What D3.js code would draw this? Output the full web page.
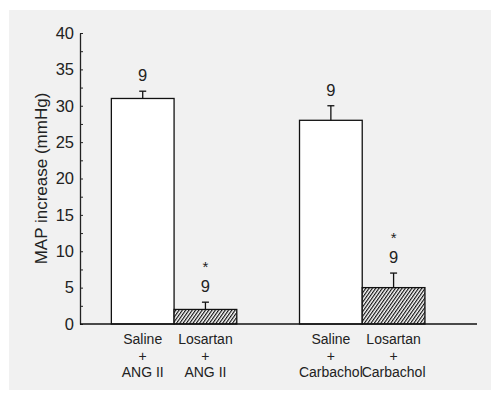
<!DOCTYPE html>
<html>
<head>
<meta charset="utf-8">
<script src="https://cdn.jsdelivr.net/npm/d3@7"></script>
<style>
  body { margin: 0; background: #fff; }
  svg { display: block; font-family: "Liberation Sans", Arial, sans-serif; }
</style>
</head>
<body>
<svg id="chart" width="491" height="397"></svg>
<script>
// data
var treatments = ["Saline", "Losartan", "Saline", "Losartan"];
var agonists = ["ANG II", "ANG II", "Carbachol", "Carbachol"];
var slots = [0, 1, 3, 4];           // slot 2 is the gap between the two groups
var means = [31, 2, 28, 5];
var sems = [1, 1, 2, 2];
var nLabels = ["9", "9", "9", "9"];
var signif = [false, true, false, true];
var hatched = [false, true, false, true];
var yTicks = [0, 5, 10, 15, 20, 25, 30, 35, 40];

function drawChart() {
    var svg = d3.select("#chart");

    svg.append("rect")
        .attr("x", 9).attr("y", 10)
        .attr("width", 482).attr("height", 380)
        .attr("fill", "#f1f1f1");

    var defs = svg.append("defs");
    var pat = defs.append("pattern")
        .attr("id", "hatch")
        .attr("patternUnits", "userSpaceOnUse")
        .attr("width", 2.7).attr("height", 2.7)
        .attr("patternTransform", "rotate(35)");
    pat.append("rect").attr("width", 2.7).attr("height", 2.7).attr("fill", "#fff");
    pat.append("line")
        .attr("x1", 0.6).attr("y1", 0).attr("x2", 0.6).attr("y2", 2.7)
        .attr("stroke", "#111").attr("stroke-width", 1.2);

    var y = d3.scaleLinear().domain([0, 40]).range([324, 33]);
    var x = d3.scaleLinear().domain([-0.5, 5.83]).range([80, 477]);
    var bw = x(1) - x(0);

    // y axis, ticks every 2.5 pointing inward
    var yAxis = d3.axisLeft(y)
        .tickValues(d3.range(0, 40.1, 2.5))
        .tickSizeInner(-3)
        .tickSizeOuter(0)
        .tickPadding(6)
        .tickFormat(function(d) { return yTicks.indexOf(d) >= 0 ? d : ""; });

    var gy = svg.append("g")
        .attr("transform", "translate(" + x(-0.5) + ",0)")
        .call(yAxis);
    gy.select(".domain").attr("stroke", "#222").attr("stroke-width", 1.3);
    gy.selectAll(".tick line").attr("stroke", "#222").attr("stroke-width", 1);
    gy.selectAll("text")
        .attr("font-size", 16.5)
        .attr("fill", "#222")
        .attr("font-family", "Liberation Sans, Arial, sans-serif");

    svg.append("text")
        .attr("transform", "translate(47," + ((y(0) + y(40)) / 2) + ") rotate(-90)")
        .attr("text-anchor", "middle")
        .attr("font-size", 17)
        .attr("fill", "#222")
        .text("MAP increase (mmHg)");

    // bars
    var g = svg.append("g");
    g.selectAll("rect.bar")
        .data(means)
        .enter().append("rect")
        .attr("class", "bar")
        .attr("x", function(d, i) { return x(slots[i]); })
        .attr("y", function(d) { return y(d); })
        .attr("width", bw)
        .attr("height", function(d) { return y(0) - y(d); })
        .attr("fill", function(d, i) { return hatched[i] ? "url(#hatch)" : "#fff"; })
        .attr("stroke", "#111")
        .attr("stroke-width", 1.3);

    // error bars, n and significance marks, group labels
    means.forEach(function(m, i) {
        var cx = x(slots[i]) + bw / 2;
        g.append("line")
            .attr("x1", cx).attr("x2", cx)
            .attr("y1", y(m)).attr("y2", y(m + sems[i]))
            .attr("stroke", "#111").attr("stroke-width", 1.3);
        g.append("line")
            .attr("x1", cx - 3.5).attr("x2", cx + 3.5)
            .attr("y1", y(m + sems[i])).attr("y2", y(m + sems[i]))
            .attr("stroke", "#111").attr("stroke-width", 1.3);

        g.append("text")
            .attr("x", cx)
            .attr("y", y(m + sems[i]) - 10)
            .attr("text-anchor", "middle")
            .attr("font-size", 16.5)
            .attr("fill", "#222")
            .text(nLabels[i]);
        if (signif[i]) {
            g.append("text")
                .attr("x", cx)
                .attr("y", y(m + sems[i]) - 30)
                .attr("text-anchor", "middle")
                .attr("font-size", 15)
                .attr("fill", "#222")
                .text("*");
        }

        var lab = g.append("text")
            .attr("text-anchor", "middle")
            .attr("font-size", 14)
            .attr("fill", "#222");
        [treatments[i], "+", agonists[i]].forEach(function(t, k) {
            lab.append("tspan")
                .attr("x", cx)
                .attr("y", y(0) + 20 + k * 16.5)
                .text(t);
        });
    });

    // baseline
    svg.append("line")
        .attr("x1", x(-0.5)).attr("x2", x(5.83))
        .attr("y1", y(0)).attr("y2", y(0))
        .attr("stroke", "#111").attr("stroke-width", 1.3);
}

drawChart();
</script>
</body>
</html>
